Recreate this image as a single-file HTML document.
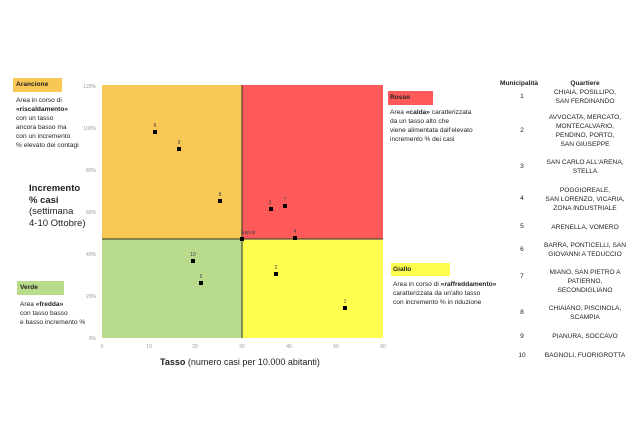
<!DOCTYPE html>
<html><head><meta charset="utf-8"><style>
body{margin:0;width:638px;height:425px;background:#fff;font-family:"Liberation Sans",sans-serif;position:relative;overflow:hidden;color:#222}
.a{position:absolute;white-space:nowrap}
.s{font-size:6.6px;line-height:9px}
.tick{font-size:5px;color:#999}
.q{position:absolute;width:130px;left:520px;text-align:center;font-size:6.6px;line-height:9px;color:#222}
.n{position:absolute;left:512px;width:20px;text-align:center;font-size:6.6px}
</style></head><body>
<svg class="a" style="left:0;top:0" width="638" height="425">
<rect x="102" y="85" width="140" height="154" fill="#f9c754"/>
<rect x="242" y="85" width="141" height="154" fill="#fd5a59"/>
<rect x="102" y="239" width="140" height="99" fill="#b9dc8c"/>
<rect x="242" y="239" width="141" height="99" fill="#fefe4e"/>
<line x1="242" y1="85" x2="242" y2="338" stroke="#333" stroke-width="1"/>
<line x1="102" y1="239" x2="383" y2="239" stroke="#333" stroke-width="1"/>
<g fill="#000">
<rect x="153" y="130" width="4" height="4"/><rect x="177" y="147" width="4" height="4"/>
<rect x="218" y="199" width="4" height="4"/><rect x="269" y="207" width="4" height="4"/>
<rect x="283" y="204" width="4" height="4"/><rect x="240" y="237" width="4" height="4"/>
<rect x="293" y="236" width="4" height="4"/><rect x="191" y="259" width="4" height="4"/>
<rect x="199" y="281" width="4" height="4"/><rect x="274" y="272" width="4" height="4"/>
<rect x="343" y="306" width="4" height="4"/>
</g>
<g font-size="5" fill="#444" text-anchor="middle" font-family="Liberation Sans">
<text x="155" y="127">6</text><text x="179" y="144">9</text><text x="220" y="196">8</text>
<text x="270" y="204">3</text><text x="285" y="201">7</text><text x="248" y="234">Napoli</text>
<text x="295" y="233">4</text><text x="193" y="256">10</text><text x="201" y="278">5</text>
<text x="276" y="269">2</text><text x="345" y="303">1</text>
</g>
<g font-size="5" fill="#999" text-anchor="end" font-family="Liberation Sans">
<text x="96" y="340">0%</text><text x="96" y="298">20%</text><text x="96" y="256">40%</text>
<text x="96" y="214">60%</text><text x="96" y="172">80%</text><text x="96" y="130">100%</text><text x="96" y="88">120%</text>
</g>
<g font-size="5" fill="#999" text-anchor="middle" font-family="Liberation Sans">
<text x="102" y="348">0</text><text x="149" y="348">10</text><text x="195" y="348">20</text>
<text x="242" y="348">30</text><text x="289" y="348">40</text><text x="336" y="348">50</text><text x="383" y="348">60</text>
</g>
<rect x="13" y="78" width="49" height="14" fill="#f9c754"/>
<rect x="17" y="281" width="47" height="14" fill="#b9dc8c"/>
<rect x="388" y="91" width="45" height="14" fill="#fd5a59"/>
<rect x="391" y="263" width="59" height="13" fill="#fefe4e"/>
</svg>
<div class="a s" style="left:16px;top:80px;font-weight:bold">Arancione</div>
<div class="a s" style="left:16px;top:96px">Area in corso di<br><b>«riscaldamento»</b><br>con un tasso<br>ancora basso ma<br>con un incremento<br>% elevato dei contagi</div>
<div class="a" style="left:29px;top:183px;font-size:9.5px;line-height:11.5px"><b>Incremento<br>% casi</b><br>(settimana<br>4-10 Ottobre)</div>
<div class="a s" style="left:20px;top:283px;font-weight:bold">Verde</div>
<div class="a s" style="left:20px;top:300px">Area <b>«fredda»</b><br>con tasso basso<br>e basso incremento %</div>
<div class="a s" style="left:390px;top:93px;font-weight:bold">Rosso</div>
<div class="a s" style="left:390px;top:108px">Area <b>«calda»</b> caratterizzata<br>da un tasso alto che<br>viene alimentata dall'elevato<br>incremento % dei casi</div>
<div class="a s" style="left:393px;top:265px;font-weight:bold">Giallo</div>
<div class="a s" style="left:393px;top:280px">Area in corso di <b>«raffreddamento»</b><br>caratterizzata da un'alto tasso<br>con incremento % in riduzione</div>
<div class="a" style="left:160px;top:357px;font-size:9px"><b>Tasso</b> (numero casi per 10.000 abitanti)</div>
<div class="a s" style="left:500px;top:79px;font-weight:bold">Municipalità</div>
<div class="q" style="top:79px;font-weight:bold">Quartiere</div>
<div class="q" style="top:88px">CHIAIA, POSILLIPO,<br>SAN FERDINANDO</div>
<div class="q" style="top:113px">AVVOCATA, MERCATO,<br>MONTECALVARIO,<br>PENDINO, PORTO,<br>SAN GIUSEPPE</div>
<div class="q" style="top:158px">SAN CARLO ALL'ARENA,<br>STELLA</div>
<div class="q" style="top:186px">POGGIOREALE,<br>SAN LORENZO, VICARIA,<br>ZONA INDUSTRIALE</div>
<div class="q" style="top:223px">ARENELLA, VOMERO</div>
<div class="q" style="top:241px">BARRA, PONTICELLI, SAN<br>GIOVANNI A TEDUCCIO</div>
<div class="q" style="top:268px">MIANO, SAN PIETRO A<br>PATIERNO,<br>SECONDIGLIANO</div>
<div class="q" style="top:304px">CHIAIANO, PISCINOLA,<br>SCAMPIA</div>
<div class="q" style="top:332px">PIANURA, SOCCAVO</div>
<div class="q" style="top:351px">BAGNOLI, FUORIGROTTA</div>
<div class="n" style="top:93px">1</div><div class="n" style="top:127px">2</div>
<div class="n" style="top:163px">3</div><div class="n" style="top:195px">4</div>
<div class="n" style="top:223px">5</div><div class="n" style="top:246px">6</div>
<div class="n" style="top:273px">7</div><div class="n" style="top:309px">8</div>
<div class="n" style="top:333px">9</div><div class="n" style="top:352px">10</div>
</body></html>
